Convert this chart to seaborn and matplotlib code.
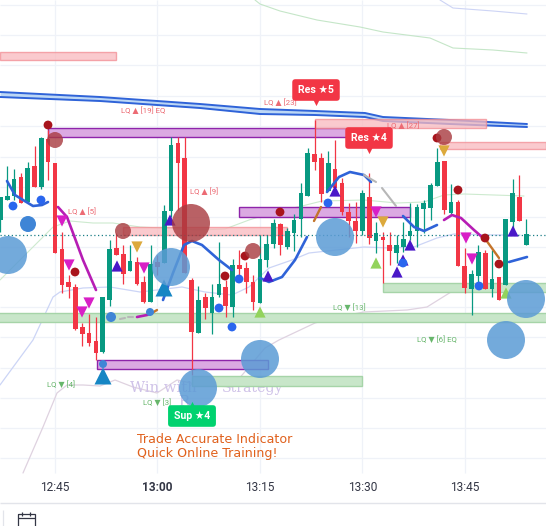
"""Intraday candle chart with liquidity zones and signal markers."""

import numpy as np
import pandas as pd
import matplotlib.pyplot as plt
import seaborn as sns
from matplotlib.patches import Rectangle

RED = "#f23645"
GREEN = "#089981"
PX_PER_MIN = 6.83
TICK_PX = 55

# one candle per minute, y values (small = high on chart)
minutes = np.arange(-8, 70)
body_top = [197, 196, 179, 177, 168, 166, 138, 139, 163, 249, 282, 287, 327, 333, 341, 297, 249, 248, 254, 261,
            262, 282, 264, 262, 211, 145, 143, 158, 280, 300, 297, 297, 284, 287, 265, 265, 268, 282, 259, 244,
            223, 224, 231, 220, 193, 153, 154, 158, 163, 169, 183, 212, 221, 193, 197, 233, 237, 245, 245, 239,
            231, 207, 203, 185, 162, 161, 202, 202, 266, 274, 252, 253, 279, 277, 219, 193, 197, 234]
body_bottom = [220, 200, 196, 203, 202, 187, 187, 162, 253, 285, 287, 329, 334, 343, 353, 352, 300, 255, 274, 271,
               284, 302, 302, 267, 263, 211, 163, 273, 332, 333, 308, 313, 295, 306, 307, 269, 282, 302, 303, 260,
               244, 245, 247, 233, 219, 196, 162, 194, 191, 188, 212, 221, 231, 231, 238, 241, 240, 251, 253, 247,
               236, 231, 209, 208, 186, 210, 213, 266, 288, 289, 276, 289, 289, 300, 285, 222, 221, 245]
wick_high = [197, 166, 169, 173, 162, 146, 137, 130, 163, 232, 275, 284, 323, 314, 317, 297, 240, 233, 245, 245,
             257, 276, 245, 255, 205, 137, 137, 137, 278, 286, 293, 284, 242, 280, 259, 250, 262, 275, 235, 235,
             219, 223, 228, 214, 183, 148, 120, 153, 151, 140, 178, 203, 202, 190, 173, 222, 232, 232, 235, 222,
             203, 204, 200, 183, 148, 161, 184, 200, 248, 270, 245, 250, 250, 277, 219, 179, 175, 219]
wick_low = [232, 200, 200, 203, 203, 187, 189, 180, 253, 293, 298, 330, 346, 346, 360, 353, 306, 255, 284, 271,
            285, 303, 302, 275, 263, 217, 210, 273, 375, 333, 319, 334, 297, 317, 317, 279, 293, 310, 303, 267,
            248, 255, 249, 251, 237, 196, 170, 202, 191, 188, 215, 237, 243, 235, 244, 253, 283, 265, 263, 252,
            240, 247, 233, 220, 186, 214, 215, 266, 293, 315, 287, 289, 297, 300, 285, 233, 221, 245]
is_up = [1, 1, 1, 0, 1, 0, 1, 0, 0, 0, 0, 0, 0, 0, 0, 1, 1, 0, 0, 1,
         0, 0, 1, 0, 1, 1, 0, 0, 0, 1, 0, 1, 1, 0, 1, 0, 0, 0, 1, 1,
         1, 0, 1, 1, 1, 1, 0, 0, 1, 0, 0, 0, 0, 1, 0, 1, 0, 0, 1, 1,
         1, 1, 1, 1, 1, 0, 1, 0, 0, 1, 1, 0, 1, 0, 1, 1, 0, 1]

time_ticks = [0, 15, 30, 45, 60]
time_labels = ["12:45", "13:00", "13:15", "13:30", "13:45"]
grid_rows = [5, 35, 65, 96, 126, 157, 187, 217, 247, 277, 307, 337, 368, 398, 428, 458]

# bands as lists of (x_pixel, y)
ma_hi_x = [0, 100, 200, 260, 315, 365, 383, 450, 527]
ma_hi_upper = [92, 97, 104, 109, 111, 113, 117, 120, 124]
ma_hi_lower = [97, 101, 108, 114, 115, 117, 121, 124, 127]

green_top_x = [255, 260, 280, 317, 360, 383, 430, 453, 493, 527]
green_top_y = [0, 4, 11, 20, 27, 32, 38, 48, 50, 53]
lav_top_x = [440, 453, 493, 527]
lav_top_y = [0, 8, 11, 14]

green_mid_x = [0, 20, 53, 70, 93, 113, 140, 160, 200, 225, 249, 275, 302, 322, 364, 397, 424, 444, 464, 524]
green_mid_y = [280, 260, 227, 221, 223, 223, 227, 228, 230, 229, 220, 212, 206, 201, 200, 203, 202, 195, 194, 196]

lav_mid_x = [0, 33, 53, 60, 83, 110, 140, 182, 205, 232, 249, 269, 292, 309, 364, 391, 414, 437, 454, 497, 520]
lav_mid_y = [385, 340, 297, 292, 288, 287, 292, 287, 292, 295, 287, 268, 260, 253, 247, 248, 247, 238, 234, 235, 235]

grey_low_x = [23, 43, 57, 67, 83, 100, 115, 133, 157, 177, 200, 232, 265, 279, 315, 332, 364, 407, 427, 451, 474, 524]
grey_low_y = [473, 427, 393, 385, 385, 386, 380, 387, 393, 380, 385, 387, 348, 340, 323, 318, 312, 310, 307, 292, 290, 290]

blue_runs = [
    ([7, 15, 23, 33, 42, 48], [181, 195, 200, 206, 205, 202]),
    ([163, 173, 184, 192, 202, 219, 232], [300, 273, 245, 241, 245, 260, 270]),
    ([260, 269, 282, 295, 307], [278, 282, 277, 260, 237]),
    ([327, 339, 350, 364, 371], [192, 177, 172, 175, 182]),
    ([403, 414, 424, 437], [216, 227, 231, 225]),
    ([509, 527], [262, 257]),
]
magenta_runs = [
    ([58, 67, 73, 83, 96], [207, 217, 233, 260, 290]),
    ([137, 147, 152], [317, 315, 313]),
    ([444, 452, 461, 474, 482], [220, 215, 218, 230, 237]),
]
orange_runs = [
    ([152, 157], [313, 310]),
    ([314, 321], [221, 207]),
    ([486, 499], [240, 258]),
]
grey_dash_runs = [
    ([120, 125], [319, 318]),
    ([128, 133], [317, 317]),
    ([364, 376], [175, 182]),
    ([382, 396], [188, 206]),
]

# zones: left px, right px, top, bottom
purple_zones = [(48, 350, 128, 137), (239, 410, 207, 217), (97, 268, 360, 369)]
pink_zones = [(0, 116, 52, 60), (315, 486, 119, 128), (440, 546, 142, 149), (123, 287, 227, 235)]
green_zones = [(-2, 548, 313, 322), (192, 362, 376, 386), (383, 548, 283, 292)]

big_blue_x = [8, 171, 335, 260, 198, 526, 506]
big_blue_y = [255, 267, 237, 359, 388, 299, 340]
big_red_x = [191, 55, 123, 253, 444]
big_red_y = [223, 140, 231, 251, 137]
big_red_r = [19, 8, 8, 8, 8]
dark_red_x = [48, 75, 225, 245, 280, 458, 485, 499, 437]
dark_red_y = [125, 272, 276, 256, 212, 190, 238, 264, 138]
blue_dot_x = [13, 41, 219, 239, 232, 328, 403, 479]
blue_dot_y = [206, 200, 308, 279, 327, 203, 263, 286]
mid_blue_x = [28, 111, 150, 103]
mid_blue_y = [224, 317, 312, 364]
mid_blue_r = [8, 5, 4, 4]

magenta_tri_x = [62, 69, 82, 89, 144, 376, 466, 472]
magenta_tri_y = [221, 265, 312, 303, 268, 212, 238, 259]
indigo_tri_x = [170, 117, 335, 268, 410, 403, 397, 513]
indigo_tri_y = [220, 266, 191, 276, 245, 260, 272, 231]
teal_tri_x = [103, 164]
teal_tri_y = [376, 288]
lime_tri_x = [260, 376, 506]
lime_tri_y = [312, 263, 293]
gold_tri_x = [137, 383, 444]
gold_tri_y = [247, 222, 151]

lq_texts = ["LQ ▲ [19] EQ", "LQ ▲ [23]", "LQ ▲ [27]", "LQ ▲ [5]", "LQ ▲ [9]",
            "LQ ▼ [13]", "LQ ▼ [6] EQ", "LQ ▼ [4]", "LQ ▼ [3]"]
lq_x = [121, 264, 387, 68, 190, 333, 417, 47, 143]
lq_y = [110, 102, 125, 211, 191, 307, 339, 384, 402]


def to_min(px):
    return (np.asarray(px, dtype=float) - TICK_PX) / PX_PER_MIN


def area(r_px):
    # scatter size (pt^2) for a marker r_px pixels in radius at dpi 100
    return (2 * np.asarray(r_px, dtype=float) * 0.72) ** 2


def dots(ax, xs, ys, color, r, marker="o", alpha=1.0, z=6):
    df = pd.DataFrame({"x": to_min(xs), "y": ys})
    sizes = np.broadcast_to(area(r), (len(xs),))
    sns.scatterplot(data=df, x="x", y="y", s=sizes, color=color, marker=marker, alpha=alpha,
                    linewidth=0, ax=ax, zorder=z, legend=False)


def trace(ax, xs, ys, color, lw, z=5, ls="-", alpha=1.0):
    df = pd.DataFrame({"x": to_min(xs), "y": ys})
    sns.lineplot(data=df, x="x", y="y", color=color, lw=lw, ls=ls, alpha=alpha, ax=ax, zorder=z,
                 sort=False, estimator=None, errorbar=None, legend=False)


def zones(ax, items, fill, edge, alpha=1.0, z=3):
    for left, right, top, bottom in items:
        x0 = to_min(left)
        ax.add_patch(Rectangle((x0, top), to_min(right) - x0, bottom - top, facecolor=fill,
                               edgecolor=edge, lw=1.0, alpha=alpha, zorder=z))


def tag(ax, text, x_px, y_px, color, tip_y, tip_marker):
    ax.text(to_min(x_px), y_px, text, color="white", fontsize=7.6, fontweight="bold", ha="center", va="center",
            family=["Roboto", "DejaVu Sans"], zorder=12,
            bbox={"boxstyle": "round,pad=0.55,rounding_size=0.3", "facecolor": color, "edgecolor": "none"})
    dots(ax, [x_px], [tip_y], color, 3.6, marker=tip_marker, z=11)


def main():
    sns.set_theme(style="white")
    fig = plt.figure(figsize=(5.46, 5.26), dpi=100)
    ax = fig.add_axes([0, 0, 1, 1])
    ax.set_xlim(to_min(0), to_min(546))
    ax.set_ylim(526, 0)
    ax.axis("off")

    # grid
    ax.vlines(time_ticks, 0, 473, color="#eff2f8", lw=0.9, zorder=1)
    ax.hlines(grid_rows, to_min(0), to_min(546), color="#eff2f8", lw=0.9, zorder=1)

    # thin bands
    trace(ax, green_top_x, green_top_y, "#c5e6c8", 0.8, z=2)
    trace(ax, lav_top_x, lav_top_y, "#cdd4f5", 0.8, z=2)
    trace(ax, green_mid_x, green_mid_y, "#cdeacf", 0.8, z=2)
    trace(ax, lav_mid_x, lav_mid_y, "#ccd5f6", 0.9, z=2)
    trace(ax, grey_low_x, grey_low_y, "#dfd2e0", 0.9, z=2)

    # double blue ribbon
    ax.fill_between(to_min(ma_hi_x), ma_hi_upper, ma_hi_lower, color="#bcd7f5", lw=0, zorder=2)
    trace(ax, ma_hi_x, ma_hi_upper, "#2f63d8", 1.4, z=2)
    trace(ax, ma_hi_x, ma_hi_lower, "#2f63d8", 1.4, z=2)

    # watermark
    ax.text(to_min(130), 388, "Win with", color="#cfc2e8", fontsize=10.6, family="DejaVu Serif", va="center", zorder=3)
    ax.text(to_min(222), 388, "Strategy", color="#cfc2e8", fontsize=10.2, family="DejaVu Serif", va="center", zorder=3)
    ax.text(to_min(178), 402, "R", color="#cfc2e8", fontsize=10.6, family="DejaVu Serif", va="center", zorder=3)

    zones(ax, green_zones, "#c8e6c9", "#a6d4a8")
    zones(ax, purple_zones, "#dba9e2", "#8e24aa")
    zones(ax, pink_zones, "#f9b9be", "#f28c93", alpha=0.75, z=3)

    # candles
    top, bottom = np.array(body_top), np.array(body_bottom)
    colors = [GREEN if up else RED for up in is_up]
    ax.vlines(minutes, wick_high, wick_low, colors=colors, lw=0.9, zorder=4)
    ax.bar(minutes, bottom - top, bottom=top, width=0.68, color=colors, lw=0, zorder=4)

    # teal dotted last-price line
    ax.hlines(234.5, to_min(0), to_min(546), color="#1b7f86", lw=0.9, ls=(0, (1, 2)), zorder=5)

    for xs, ys in blue_runs:
        trace(ax, xs, ys, "#2f63d8", 1.9)
    for xs, ys in magenta_runs:
        trace(ax, xs, ys, "#b61db4", 1.9)
    for xs, ys in orange_runs:
        trace(ax, xs, ys, "#c4742a", 1.7)
    for xs, ys in grey_dash_runs:
        trace(ax, xs, ys, "#b7b7b7", 1.5)

    # triangles and dots
    dots(ax, magenta_tri_x, magenta_tri_y, "#d81fc6", 5.6, marker="v")
    dots(ax, indigo_tri_x, indigo_tri_y, "#4a18c8", 5.6, marker="^")
    dots(ax, teal_tri_x, teal_tri_y, "#1686c4", 8.5, marker="^")
    dots(ax, lime_tri_x, lime_tri_y, "#93d35c", 5.6, marker="^")
    dots(ax, gold_tri_x, gold_tri_y, "#dca93c", 5.6, marker="v")
    dots(ax, dark_red_x, dark_red_y, "#a8141c", 4.4)
    dots(ax, blue_dot_x, blue_dot_y, "#2a66ee", 4.4)
    dots(ax, mid_blue_x, mid_blue_y, "#3f85d6", mid_blue_r)
    dots(ax, big_red_x, big_red_y, "#a83a3f", big_red_r, alpha=0.8, z=7)
    dots(ax, big_blue_x, big_blue_y, "#5b9bd5", 19, alpha=0.85, z=7)

    # LQ labels
    for text, x, y in zip(lq_texts, lq_x, lq_y):
        c = "#ec6a73" if "▲" in text else "#67b66b"
        ax.text(to_min(x), y, text, color=c, fontsize=5.7, ha="left", va="center",
                family=["Roboto", "DejaVu Sans"], zorder=8)

    tag(ax, "Res ★5", 316, 90, "#f23645", 101.5, "v")
    tag(ax, "Res ★4", 369, 138, "#f23645", 149.5, "v")
    tag(ax, "Sup ★4", 192, 416, "#00d26f", 405, "^")

    ax.text(to_min(137), 439.5, "Trade Accurate Indicator", color="#e0611d", fontsize=9.1, va="center",
            family="DejaVu Sans", zorder=9)
    ax.text(to_min(137), 453.5, "Quick Online Training!", color="#e0611d", fontsize=9.1, va="center",
            family="DejaVu Sans", zorder=9)

    # time axis
    for tick, label in zip(time_ticks, time_labels):
        ax.text(tick, 487.5, label, color="#333645", fontsize=8.6, ha="center", va="center",
                fontweight="bold" if label == "13:00" else "normal", family="Roboto", zorder=9)
    ax.hlines(502.5, to_min(0), to_min(546), color="#e2e4ea", lw=1.0, zorder=9)
    ax.vlines(to_min(2.5), 510, 526, color="#e2e4ea", lw=0.9, zorder=9)

    # calendar icon on the bottom bar
    ax.add_patch(Rectangle((to_min(17.5), 514), to_min(34.5) - to_min(17.5), 14, facecolor="none",
                           edgecolor="#333645", lw=0.9, zorder=9))
    ax.hlines(517.5, to_min(17.5), to_min(34.5), color="#333645", lw=0.9, zorder=9)
    ax.vlines(to_min([22, 30]), 512, 516, color="#333645", lw=0.9, zorder=9)

    fig.savefig("out.png", dpi=100)
    plt.close(fig)


if __name__ == "__main__":
    main()
